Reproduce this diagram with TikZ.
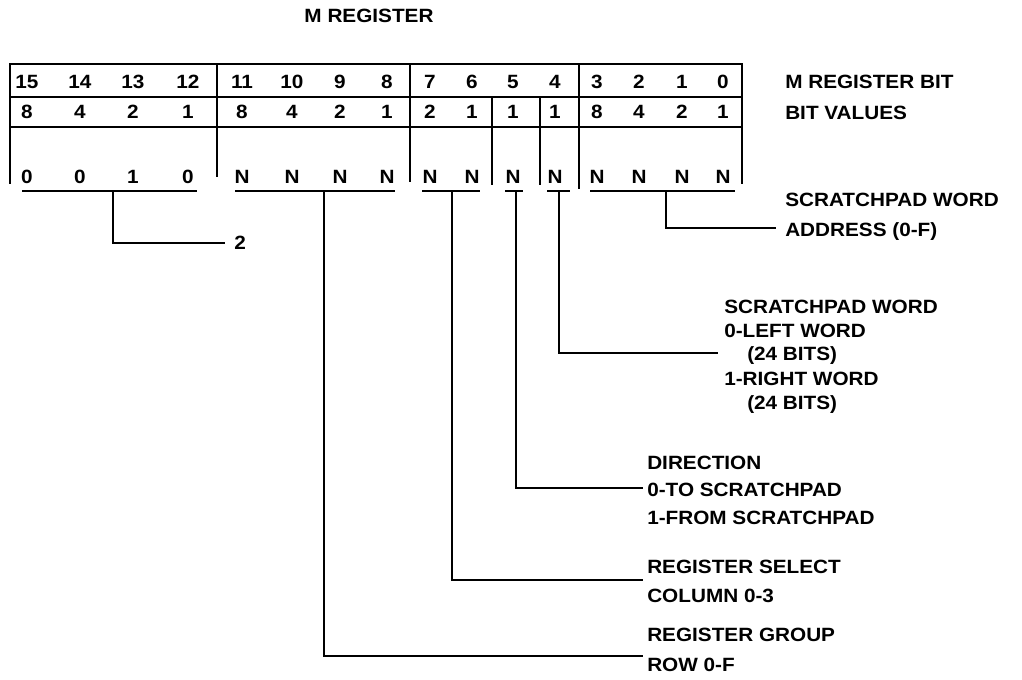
\documentclass[tikz,border=0pt]{standalone}
\usepackage{fontspec}
\setmainfont{Liberation Sans}[FakeStretch=1.08]
\begin{document}
\begin{tikzpicture}[x=0.75pt,y=-0.75pt,
  every node/.style={inner sep=0pt,font=\fontsize{14.4}{16}\selectfont\bfseries},
  dig/.style={anchor=base},
  lab/.style={anchor=base west},
  rule/.style={line width=1.8pt,line cap=rect},
  conn/.style={line width=1.8pt}]
\useasboundingbox (0,0) rectangle (1022,679);
% title
\node[dig] (title) at (369,22) {M REGISTER};
% box
\draw[rule] (10,64) -- (742,64);
\draw[rule] (10,97) -- (742,97);
\draw[rule] (10,127) -- (742,127);
\draw[rule] (10,64) -- (10,183);
\draw[rule] (217,64) -- (217,176);
\draw[rule] (410,64) -- (410,181);
\draw[rule] (579,64) -- (579,188);
\draw[rule] (742,64) -- (742,183);
\draw[rule] (492,97) -- (492,184);
\draw[rule] (540,97) -- (540,184);
% digits
\foreach \b/\x/\v/\n in {15/27/8/0,14/80/4/0,13/133/2/1,12/188/1/0,
  11/242/8/N,10/292/4/N,9/340/2/N,8/387/1/N,
  7/430/2/N,6/472/1/N,5/513/1/N,4/555/1/N,
  3/597/8/N,2/639/4/N,1/682/2/N,0/723/1/N}{
  \node[dig] (bit\b) at (\x,88) {\b};
  \node[dig] (val\b) at (\x,118) {\v};
  \node[dig] (f\b) at (\x,183) {\n};
}
\node[lab] (lbit) at (785,88) {M REGISTER BIT};
\node[lab] (lval) at (785,119) {BIT VALUES};
% underline coordinates
\coordinate (uA1) at (22,191);  \coordinate (uA2) at (197,191);
\coordinate (uB1) at (235,191); \coordinate (uB2) at (395,191);
\coordinate (uC1) at (422,191); \coordinate (uC2) at (480,191);
\coordinate (uD1) at (505,191); \coordinate (uD2) at (523,191);
\coordinate (uE1) at (547,191); \coordinate (uE2) at (570,191);
\coordinate (uF1) at (590,191); \coordinate (uF2) at (735,191);
\foreach \g in {A,B,C,D,E,F}{\draw[conn] (u\g1) -- (u\g2);}
% labels
\node[lab] (l2) at (234,249) {2};
\node[lab] (lgrp) at (647,641) {REGISTER GROUP};
\node[lab] (lrow) at (647,671) {ROW 0-F};
\node[lab] (lsel) at (647,573) {REGISTER SELECT};
\node[lab] (lcol) at (647,602) {COLUMN 0-3};
\node[lab] (ldir) at (647,469) {DIRECTION};
\node[lab] (lto) at (647,496) {0-TO SCRATCHPAD};
\node[lab] (lfrom) at (647,524) {1-FROM SCRATCHPAD};
\node[lab] (lsw) at (724,313) {SCRATCHPAD WORD};
\node[lab] (lleft) at (724,337) {0-LEFT WORD};
\node[lab] (lb1) at (747,360) {(24 BITS)};
\node[lab] (lright) at (724,385) {1-RIGHT WORD};
\node[lab] (lb2) at (747,409) {(24 BITS)};
\node[lab] (lsa) at (785,206) {SCRATCHPAD WORD};
\node[lab] (laddr) at (785,236) {ADDRESS (0-F)};
% connectors
\coordinate (eA) at (225,243);
\coordinate (eB) at (643,656);
\coordinate (eC) at (643,580);
\coordinate (eD) at (643,488);
\coordinate (eE) at (718,353);
\coordinate (eF) at (776,228);
\draw[conn] (113,191) |- (eA);
\draw[conn] (324,191) |- (eB);
\draw[conn] (452,191) |- (eC);
\draw[conn] (516,191) |- (eD);
\draw[conn] (559,191) |- (eE);
\draw[conn] (666,191) |- (eF);
\end{tikzpicture}
\end{document}
